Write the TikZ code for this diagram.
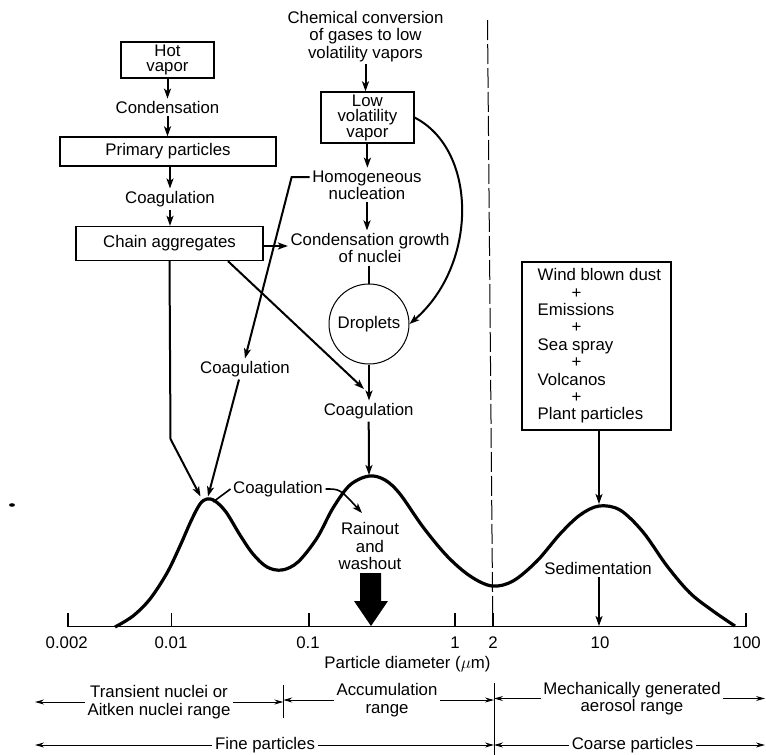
\documentclass[tikz,border=0pt]{standalone}
\usepackage{fontspec}
\setmainfont{Liberation Sans}
\usetikzlibrary{arrows.meta,calc}
\tikzset{
  lbl/.style={inner sep=2.5pt, align=center},
  box/.style={draw, line width=1.3pt, inner sep=0pt, align=center},
  arr/.style={line width=2pt, -{Stealth[length=10pt,width=7pt,inset=2.5pt]}},
  con/.style={line width=2pt},
  thinarr/.style={line width=1pt, -{Stealth[length=9pt,width=5pt,inset=3pt]}},
  distcurve/.style={line width=3.2pt, line join=round},
}
\begin{document}
\begin{tikzpicture}[x=1pt,y=-1pt,font=\fontsize{16.8}{17.4}\selectfont]
\useasboundingbox (0,0) rectangle (766,755);

% left column
\node[box, minimum width=93pt, minimum height=36pt, font=\fontsize{16.8}{15.2}\selectfont] (hot) at (167.5,60) {Hot\\vapor};
\node[lbl] (cond) at (167.5,107.5) {Condensation};
\node[box, minimum width=216pt, minimum height=29pt] (prim) at (168,151.5) {Primary particles};
\node[lbl] (coag1) at (170,199) {Coagulation};
\node[box, minimum width=187pt, minimum height=34pt] (chain) at (169.5,243.5) {Chain aggregates};

% middle column
\node[lbl] (chem) at (365.5,36.5) {Chemical conversion\\of gases to low\\volatility vapors};
\node[box, minimum width=93pt, minimum height=51pt, font=\fontsize{16.8}{15.5}\selectfont] (low) at (367.4,117.5) {Low\\volatility\\vapor};
\node[lbl] (homog) at (367,185) {Homogeneous\\nucleation};
\node[lbl] (condg) at (370,248) {Condensation growth\\of nuclei};
\node[circle, draw, line width=1pt, minimum size=80pt, inner sep=0pt] (drop) at (369,324) {Droplets};
\node[lbl] (coagC) at (368.7,411) {Coagulation};
\node[lbl] (coagL) at (245,369) {Coagulation};
\node[lbl] (coagP) at (278,489) {Coagulation};
\node[lbl] (rain) at (370,546) {Rainout\\and\\washout};

% right column
\node[box, minimum width=149pt, minimum height=168pt] (wind) at (596.5,346) {};
\node[lbl, align=left, anchor=west] (windtxt) at (535,346) {Wind blown dust\\\hspace*{34pt}+\\Emissions\\\hspace*{34pt}+\\Sea spray\\\hspace*{34pt}+\\Volcanos\\\hspace*{34pt}+\\Plant particles};
\node[lbl] (sed) at (598,568) {Sedimentation};

% coordinates
\coordinate (pk1l) at (200.5,496.5);
\coordinate (pk1r) at (208,496.5);
\coordinate (bend1) at (170.5,439);
\coordinate (pk2) at (369,475);
\coordinate (pk3) at (599,504);
\coordinate (pkc) at (213,502);
\coordinate (rt) at (362,513);
\coordinate (cj) at (364,389);
\coordinate (ax10) at (599,626);

% arrows left column
\draw[arr] (hot.south) -- (hot.south |- cond.north);
\draw[arr] (cond.south) -- (cond.south |- prim.north);
\draw[arr] (coag1.north |- prim.south) -- (coag1.north);
\draw[arr] (coag1.south) -- (coag1.south |- chain.north);
\draw[arr] ($(chain.east)+(0,2.5)$) -- ($(chain.east -| condg.west)+(0,2.5)$);
\draw[arr] (chain.south) -- (bend1) -- (pk1l);
\draw[arr] ($(chain.south)+(58.5,0)$) -- (cj);

% arrows middle column
\draw[arr] (chem.south) -- (chem.south |- low.north);
\draw[arr] (low.south) -- (low.south |- homog.north);
\draw[arr] (homog.south) -- (homog.south |- condg.north);
\draw[con] (drop.north |- condg.south) -- (drop.north);
\draw[arr] (drop.south) -- (drop.south |- coagC.north);
\draw[arr] (coagC.south) -- (pk2);
\draw[arr] (low.east) .. controls (478,150) and (478,265) .. (drop.east);
\draw[arr] ($(homog.west)+(0,-8)$) -- ++(-18,0) -- (coagL.north);
\draw[arr] ($(coagL.south)+(-6,0)$) -- (pk1r);
\draw[con, line width=1.6pt] (coagP.west) -- (pkc);
\draw[arr, line width=1.6pt] (coagP.east) .. controls (340,489) .. (rt);

% right
\draw[arr] (pk3 |- wind.south) -- (pk3);
\draw[arr] (ax10 |- sed.south) -- (ax10);

% big arrow
\fill (360,573) -- (381,573) -- (381,601) -- (388,601) -- (371,626) -- (354,601) -- (360,601) -- cycle;

% dashed divider
\draw[line width=1pt, dash pattern=on 20pt off 4pt] (487.5,20) -- (492.8,626);

% distribution curve
\draw[distcurve] plot[smooth, tension=0.55] coordinates {
(115,627) (133,616) (150,599) (167,573) (180,546) (191,521) (200,504) (207,499) (215,501) (226,512) (240,535) (253,554) (267,567) (282,570) (298,562) (317,538) (333,508) (350,485) (369,476) (385,480) (400,494) (423,527) (447,556) (470,576) (492,586) (513,581) (537,561) (560,534) (580,515) (599,506) (620,510) (643,532) (667,566) (690,593) (713,611) (735,626)};

% axis
\draw[line width=1.6pt] (68,626.5) -- (746,626.5);
\foreach \x in {68,171.5,309,455,493,746} \draw[line width=1.2pt] (\x,626.5) -- (\x,613);
\node[lbl] (t1) at (66.7,643) {0.002};
\node[lbl] (t2) at (171,643) {0.01};
\node[lbl] (t3) at (308,643) {0.1};
\node[lbl] (t4) at (455,643) {1};
\node[lbl] (t5) at (493,643) {2};
\node[lbl] (t6) at (600,643) {10};
\node[lbl] (t7) at (746.7,643) {100};
\node[lbl] (pd) at (407.5,664) {Particle diameter ($\mu$m)};

% bottom ranges
\coordinate (xL) at (35,0);
\coordinate (xD1) at (283.3,0);
\coordinate (xD2) at (494,0);
\coordinate (xR) at (765,0);
\draw[line width=1pt] (283.3,685) -- (283.3,718);
\draw[line width=1pt] (494,683) -- (494,755);

\node[lbl] (trans) at (159,702) {Transient nuclei or\\Aitken nuclei range};
\node[lbl] (accum) at (387,700) {Accumulation\\range};
\node[lbl] (mech) at (632,698.5) {Mechanically generated\\aerosol range};
\node[lbl] (fine) at (265,745) {Fine particles};
\node[lbl] (coarse) at (632.5,745) {Coarse particles};

\draw[thinarr] (trans.west) -- (trans.west -| xL);
\draw[thinarr] (trans.east) -- (trans.east -| xD1);
\draw[thinarr] (accum.west) -- (accum.west -| xD1);
\draw[thinarr] (accum.east) -- (accum.east -| xD2);
\draw[thinarr] (mech.west) -- (mech.west -| xD2);
\draw[thinarr] (mech.east) -- (mech.east -| xR);
\draw[thinarr] (fine.west) -- (fine.west -| xL);
\draw[thinarr] (fine.east) -- (fine.east -| xD2);
\draw[thinarr] (coarse.west) -- (coarse.west -| xD2);
\draw[thinarr] (coarse.east) -- (coarse.east -| xR);

% speck
\fill (12,505) ellipse (3 and 1.8);
\end{tikzpicture}
\end{document}
